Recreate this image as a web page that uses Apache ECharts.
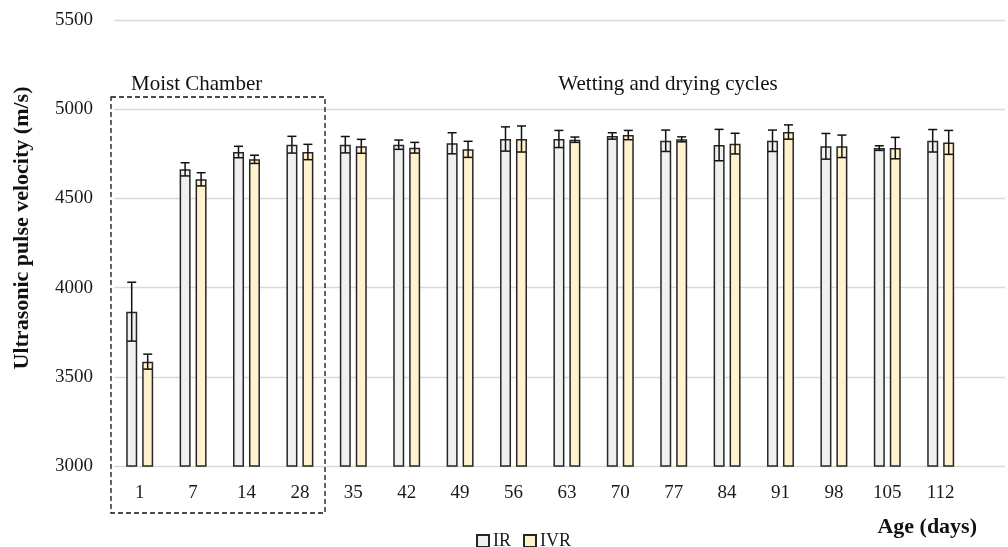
<!DOCTYPE html>
<html>
<head>
<meta charset="utf-8">
<script src="https://cdn.jsdelivr.net/npm/echarts@6/dist/echarts.min.js"></script>
<style>
  html, body { margin: 0; padding: 0; background: #ffffff; }
  #chart { width: 1008px; height: 547px; }
</style>
</head>
<body>
<div id="chart"></div>
<script>
// Age of specimens (days)
var categories = ['1', '7', '14', '28', '35', '42', '49', '56', '63', '70', '77', '84', '91', '98', '105', '112'];
// Mean ultrasonic pulse velocity (m/s) and standard deviation
var irValues   = [3865, 4663, 4760, 4801, 4801, 4801, 4809, 4833, 4833, 4850, 4823, 4799, 4823, 4792, 4782, 4823];
var irErrors   = [165, 37, 32, 47, 46, 26, 59, 68, 48, 18, 60, 88, 60, 72, 13, 63];
var ivrValues  = [3585, 4607, 4719, 4760, 4792, 4784, 4775, 4833, 4829, 4855, 4831, 4807, 4872, 4792, 4782, 4814];
var ivrErrors  = [42, 37, 23, 43, 39, 30, 45, 73, 15, 26, 14, 58, 40, 63, 60, 67];
var yTicks = [3000, 3500, 4000, 4500, 5000, 5500];

var FONT = "'Liberation Serif', 'DejaVu Serif', serif";
var BAR_W = 11;
var BAR_OFFSET = 8; // half the distance between the two bar centres of a group

function errorData(values, errors) {
  return values.map(function (v, i) { return [i, v - errors[i], v + errors[i]]; });
}

function errorRenderer(offset) {
  return function (params, api) {
    var idx = api.value(0);
    var lo = api.coord([idx, api.value(1)]);
    var hi = api.coord([idx, api.value(2)]);
    var x = lo[0] + offset;
    var cap = 4.5;
    var style = { stroke: '#111111', lineWidth: 1.5 };
    return {
      type: 'group',
      children: [
        { type: 'line', shape: { x1: x, y1: hi[1], x2: x, y2: lo[1] }, style: style },
        { type: 'line', shape: { x1: x - cap, y1: hi[1], x2: x + cap, y2: hi[1] }, style: style },
        { type: 'line', shape: { x1: x - cap, y1: lo[1], x2: x + cap, y2: lo[1] }, style: style }
      ]
    };
  };
}

var chart = echarts.init(document.getElementById('chart'));

var option = {
  backgroundColor: '#ffffff',
  animation: false,
  grid: [
    // full-width plot area carrying the horizontal gridlines
    { left: 114, right: 3, top: 20, bottom: 81 },
    // bar area
    { left: 113, width: 854.4, top: 20, bottom: 81 }
  ],
  xAxis: [
    { gridIndex: 0, type: 'value', min: 0, max: 1, show: false },
    {
      gridIndex: 1,
      type: 'category',
      data: categories,
      axisLine: { show: false },
      axisTick: { show: false },
      axisLabel: { color: '#1a1a1a', fontFamily: FONT, fontSize: 19, margin: 18 }
    }
  ],
  yAxis: [
    {
      gridIndex: 0,
      type: 'value',
      min: yTicks[0],
      max: yTicks[yTicks.length - 1],
      interval: 500,
      axisLine: { show: false },
      axisTick: { show: false },
      axisLabel: {
        color: '#1a1a1a', fontFamily: FONT, fontSize: 19, margin: 21,
        formatter: function (v) { return String(v); }
      },
      splitLine: { lineStyle: { color: '#d9d9d9', width: 1.3 } }
    },
    {
      gridIndex: 1,
      type: 'value',
      min: yTicks[0],
      max: yTicks[yTicks.length - 1],
      interval: 500,
      show: false
    }
  ],
  legend: {
    left: 471,
    top: 527,
    itemWidth: 12,
    itemHeight: 12,
    itemGap: 12,
    icon: 'rect',
    data: ['IR', 'IVR'],
    textStyle: { color: '#1a1a1a', fontFamily: FONT, fontSize: 18, padding: [0, 0, 0, -1] }
  },
  series: [
    {
      name: 'IR',
      type: 'bar',
      xAxisIndex: 1,
      yAxisIndex: 1,
      data: irValues,
      barWidth: BAR_W,
      barGap: '45%',
      itemStyle: { color: '#f0f0f0', borderColor: '#262626', borderWidth: 1.5 }
    },
    {
      name: 'IVR',
      type: 'bar',
      xAxisIndex: 1,
      yAxisIndex: 1,
      data: ivrValues,
      barWidth: BAR_W,
      itemStyle: { color: '#fff2cc', borderColor: '#262626', borderWidth: 1.5 }
    },
    {
      type: 'custom',
      xAxisIndex: 1,
      yAxisIndex: 1,
      renderItem: errorRenderer(-BAR_OFFSET),
      data: errorData(irValues, irErrors),
      z: 5,
      silent: true
    },
    {
      type: 'custom',
      xAxisIndex: 1,
      yAxisIndex: 1,
      renderItem: errorRenderer(BAR_OFFSET),
      data: errorData(ivrValues, ivrErrors),
      z: 5,
      silent: true
    }
  ],
  graphic: [
    {
      type: 'text',
      x: 22,
      y: 228,
      rotation: Math.PI / 2,
      style: {
        text: 'Ultrasonic pulse velocity (m/s)',
        fill: '#111111',
        font: 'bold 22px ' + FONT,
        align: 'center',
        verticalAlign: 'middle'
      }
    },
    {
      type: 'text',
      x: 977,
      y: 527,
      style: {
        text: 'Age (days)',
        fill: '#111111',
        font: 'bold 22px ' + FONT,
        align: 'right',
        verticalAlign: 'middle'
      }
    },
    {
      type: 'rect',
      shape: { x: 111, y: 97, width: 214, height: 416 },
      style: { fill: 'none', stroke: '#111111', lineWidth: 1.3, lineDash: [5, 3] },
      z: 10
    },
    {
      type: 'text',
      x: 131,
      y: 84,
      style: {
        text: 'Moist Chamber',
        fill: '#111111',
        font: '21px ' + FONT,
        align: 'left',
        verticalAlign: 'middle'
      }
    },
    {
      type: 'text',
      x: 668,
      y: 84,
      style: {
        text: 'Wetting and drying cycles',
        fill: '#111111',
        font: '21px ' + FONT,
        align: 'center',
        verticalAlign: 'middle'
      }
    }
  ]
};

chart.setOption(option);
</script>
</body>
</html>
